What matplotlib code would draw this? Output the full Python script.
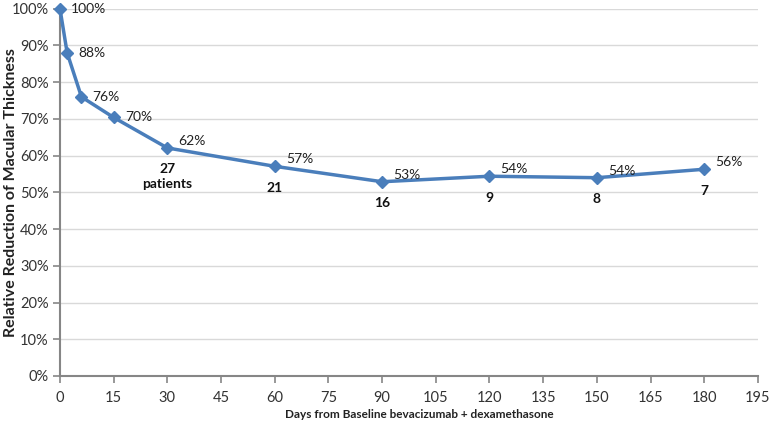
import matplotlib
matplotlib.use("Agg")
import matplotlib.pyplot as plt
from matplotlib.ticker import FuncFormatter, MultipleLocator

days = [0, 2, 6, 15, 30, 60, 90, 120, 150, 180]
reduction = [100, 88, 76, 70.4, 62.1, 57.1, 52.9, 54.4, 54.0, 56.3]
value_labels = ["100%", "88%", "76%", "70%", "62%", "57%", "53%", "54%", "54%", "56%"]
patient_days = [30, 60, 90, 120, 150, 180]
patient_counts = ["27\npatients", "21", "16", "9", "8", "7"]

plt.rcParams['font.family'] = ['Lato', 'DejaVu Sans']

fig = plt.figure(figsize=(7.72, 4.28), dpi=100)
ax = fig.add_axes([0.0777, 0.1215, 0.904, 0.858])

line_color = "#4A7EBB"
ax.plot(days, reduction, color=line_color, lw=2.5, marker="D", ms=6,
        markerfacecolor=line_color, markeredgecolor=line_color, zorder=3, clip_on=False)

for d, v, lab in zip(days, reduction, value_labels):
    dy = 0 if d <= 15 else 5
    ax.annotate(lab, (d, v), xytext=(8, dy), textcoords="offset points",
                ha="left", va="center", fontsize=10, color="#222222")

rmap = dict(zip(days, reduction))
for d, c in zip(patient_days, patient_counts):
    ax.annotate(c, (d, rmap[d]), xytext=(0, -11), textcoords="offset points",
                ha="center", va="top", fontsize=10, fontweight="bold",
                color="#111111", linespacing=1.3)

ax.set_xlim(0, 195)
ax.set_ylim(0, 100)
ax.xaxis.set_major_locator(MultipleLocator(15))
ax.yaxis.set_major_locator(MultipleLocator(10))
ax.yaxis.set_major_formatter(FuncFormatter(lambda v, p: f"{int(round(v))}%"))

ax.grid(axis="y", color="#D9D9D9", lw=1)
ax.set_axisbelow(True)
for s in ["top", "right"]:
    ax.spines[s].set_visible(False)
for s in ["left", "bottom"]:
    ax.spines[s].set_color("#868686")
    ax.spines[s].set_linewidth(1.5)
ax.tick_params(axis="both", direction="out", length=5, width=1.2, color="#868686",
               labelsize=10.5, labelcolor="#333333")
ax.tick_params(axis="x", pad=6)
ax.tick_params(axis="y", pad=3)

fig.text(0.543, 0.031, "Days from Baseline bevacizumab + dexamethasone", fontsize=8.5,
         fontweight="bold", color="#222222", ha="center", va="center")
fig.text(0.014, 0.55, "Relative Reduction of Macular Thickness", fontsize=11.5,
         fontweight="bold", color="#222222", ha="center", va="center", rotation=90)

fig.savefig("out.png", dpi=100)
